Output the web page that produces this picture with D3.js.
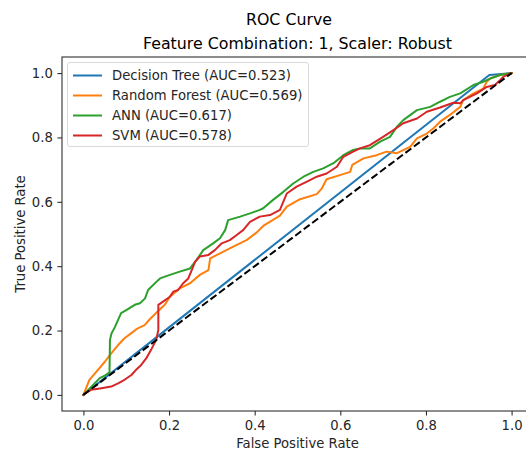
<!DOCTYPE html>
<html>
<head>
<meta charset="utf-8">
<script src="https://cdn.jsdelivr.net/npm/d3@7"></script>
<style>
  html, body { margin: 0; padding: 0; background: #fff; }
  svg { display: block; font-family: "DejaVu Sans", sans-serif; }
</style>
</head>
<body>
<div id="chart"></div>
<script>
// ---- Data ----
const titleText = "ROC Curve";
const subtitleText = "Feature Combination: 1, Scaler: Robust";
const xLabel = "False Positive Rate";
const yLabel = "True Positive Rate";
const tickValues = [0.0, 0.2, 0.4, 0.6, 0.8, 1.0];

const seriesNames = ["Decision Tree", "Random Forest", "ANN", "SVM"];
const aucValues = [0.523, 0.569, 0.617, 0.578];
const seriesColors = ["#1f77b4", "#ff7f0e", "#2ca02c", "#d62728"];

const dtFpr = [0, 0.948, 1];
const dtTpr = [0, 0.994, 1];

const rfFpr = [0, 0.014, 0.034, 0.050, 0.065, 0.081, 0.096, 0.112, 0.127, 0.143, 0.155, 0.174, 0.190, 0.202, 0.225, 0.249, 0.272, 0.292, 0.296, 0.319, 0.350, 0.381, 0.405, 0.420, 0.459, 0.475, 0.506, 0.545, 0.556, 0.568, 0.599, 0.623, 0.628, 0.654, 0.685, 0.708, 0.732, 0.763, 0.779, 0.802, 0.817, 0.833, 0.856, 0.880, 0.887, 0.911, 0.934, 0.942, 0.950, 0.973, 1];
const rfTpr = [0, 0.047, 0.078, 0.103, 0.129, 0.155, 0.176, 0.192, 0.207, 0.217, 0.235, 0.260, 0.280, 0.305, 0.331, 0.347, 0.373, 0.388, 0.424, 0.440, 0.461, 0.481, 0.505, 0.525, 0.557, 0.585, 0.608, 0.624, 0.640, 0.670, 0.683, 0.693, 0.715, 0.735, 0.745, 0.756, 0.751, 0.771, 0.797, 0.812, 0.828, 0.849, 0.870, 0.895, 0.916, 0.937, 0.952, 0.973, 0.983, 0.994, 1];

const annFpr = [0, 0.038, 0.050, 0.061, 0.062, 0.066, 0.074, 0.081, 0.088, 0.101, 0.120, 0.132, 0.144, 0.151, 0.171, 0.179, 0.202, 0.225, 0.249, 0.264, 0.280, 0.303, 0.319, 0.331, 0.338, 0.366, 0.389, 0.412, 0.420, 0.443, 0.467, 0.490, 0.514, 0.537, 0.560, 0.584, 0.607, 0.630, 0.646, 0.669, 0.693, 0.716, 0.732, 0.747, 0.779, 0.810, 0.833, 0.856, 0.880, 0.911, 0.934, 0.950, 0.973, 1];
const annTpr = [0, 0.052, 0.060, 0.070, 0.171, 0.192, 0.212, 0.233, 0.254, 0.264, 0.280, 0.285, 0.300, 0.326, 0.352, 0.362, 0.373, 0.383, 0.393, 0.419, 0.450, 0.471, 0.487, 0.512, 0.543, 0.554, 0.564, 0.575, 0.580, 0.606, 0.631, 0.657, 0.678, 0.693, 0.704, 0.720, 0.745, 0.761, 0.766, 0.766, 0.787, 0.802, 0.833, 0.854, 0.885, 0.895, 0.911, 0.926, 0.937, 0.963, 0.973, 0.983, 0.994, 1];

const svmFpr = [0, 0.003, 0.018, 0.042, 0.065, 0.081, 0.096, 0.112, 0.123, 0.135, 0.147, 0.158, 0.170, 0.175, 0.175, 0.186, 0.202, 0.210, 0.221, 0.233, 0.245, 0.253, 0.261, 0.272, 0.292, 0.307, 0.323, 0.342, 0.358, 0.373, 0.389, 0.412, 0.436, 0.459, 0.475, 0.498, 0.521, 0.545, 0.568, 0.592, 0.607, 0.630, 0.646, 0.669, 0.700, 0.724, 0.747, 0.779, 0.802, 0.833, 0.864, 0.880, 0.887, 0.919, 0.942, 0.961, 0.973, 0.981, 1];
const svmTpr = [0, 0.005, 0.016, 0.021, 0.026, 0.036, 0.047, 0.062, 0.078, 0.093, 0.114, 0.140, 0.171, 0.202, 0.280, 0.290, 0.305, 0.321, 0.326, 0.347, 0.362, 0.388, 0.414, 0.430, 0.435, 0.450, 0.471, 0.481, 0.497, 0.512, 0.538, 0.554, 0.559, 0.575, 0.626, 0.647, 0.662, 0.678, 0.688, 0.709, 0.740, 0.756, 0.766, 0.776, 0.802, 0.823, 0.844, 0.859, 0.880, 0.893, 0.908, 0.906, 0.916, 0.937, 0.957, 0.963, 0.978, 0.989, 1];

const chanceX = [0, 1];
const chanceY = [0, 1];

// ---- Layout ----
const W = 526, H = 450;
const plot = { left: 62, right: 533, top: 57, bottom: 411 };
const FS = 13.2, TFS = 15.8, LW = 2;

const x = d3.scaleLinear().domain([-0.05, 1.05]).range([plot.left, plot.right]);
const y = d3.scaleLinear().domain([-0.05, 1.05]).range([plot.bottom, plot.top]);

const svg = d3.select("#chart").append("svg")
  .attr("width", W).attr("height", H);

svg.append("rect").attr("width", W).attr("height", H).attr("fill", "#fff");

// titles
svg.append("text").attr("x", 289).attr("y", 19.5).attr("text-anchor", "middle")
  .attr("dominant-baseline", "central").attr("font-size", TFS).attr("fill", "#000")
  .text(titleText);
svg.append("text").attr("x", 297.5).attr("y", 43.5).attr("text-anchor", "middle")
  .attr("dominant-baseline", "central").attr("font-size", TFS).attr("fill", "#000")
  .text(subtitleText);

// clip
svg.append("clipPath").attr("id", "clip").append("rect")
  .attr("x", plot.left).attr("y", plot.top)
  .attr("width", plot.right - plot.left).attr("height", plot.bottom - plot.top);

const line = d3.line().x(d => x(d[0])).y(d => y(d[1]));
const g = svg.append("g").attr("clip-path", "url(#clip)");

const series = [
  d3.zip(dtFpr, dtTpr),
  d3.zip(rfFpr, rfTpr),
  d3.zip(annFpr, annTpr),
  d3.zip(svmFpr, svmTpr)
];
series.forEach((pts, i) => {
  g.append("path").datum(pts).attr("d", line)
    .attr("fill", "none").attr("stroke", seriesColors[i])
    .attr("stroke-width", LW).attr("stroke-linejoin", "round").attr("stroke-linecap", "square");
});
g.append("path").datum(d3.zip(chanceX, chanceY)).attr("d", line)
  .attr("fill", "none").attr("stroke", "#000").attr("stroke-width", LW)
  .attr("stroke-dasharray", "7.4,3.2");

// axes
const xAxis = d3.axisBottom(x).tickValues(tickValues).tickFormat(d3.format(".1f"))
  .tickSizeInner(4.6).tickSizeOuter(0).tickPadding(4.6);
const yAxis = d3.axisLeft(y).tickValues(tickValues).tickFormat(d3.format(".1f"))
  .tickSizeInner(4.6).tickSizeOuter(0).tickPadding(4.6);

const gx = svg.append("g").attr("transform", `translate(0,${plot.bottom})`).call(xAxis);
const gy = svg.append("g").attr("transform", `translate(${plot.left},0)`).call(yAxis);
[gx, gy].forEach(ax => {
  ax.selectAll("text").attr("font-size", FS).attr("fill", "#262626")
    .attr("font-family", "DejaVu Sans, sans-serif");
  ax.selectAll("line").attr("stroke", "#262626").attr("stroke-width", 1.05);
  ax.select(".domain").remove();
});

// spines
svg.append("rect").attr("x", plot.left).attr("y", plot.top)
  .attr("width", plot.right - plot.left).attr("height", plot.bottom - plot.top)
  .attr("fill", "none").attr("stroke", "#262626").attr("stroke-width", 1.05);

// axis labels
svg.append("text").attr("x", (plot.left + plot.right) / 2).attr("y", 443)
  .attr("text-anchor", "middle").attr("dominant-baseline", "central")
  .attr("font-size", FS).attr("fill", "#262626").text(xLabel);
svg.append("text").attr("transform", `translate(20,${(plot.top + plot.bottom) / 2}) rotate(-90)`)
  .attr("text-anchor", "middle").attr("dominant-baseline", "central")
  .attr("font-size", FS).attr("fill", "#262626").text(yLabel);

// legend
const leg = svg.append("g");
leg.append("rect").attr("x", 67.5).attr("y", 62.5).attr("width", 241).attr("height", 84)
  .attr("rx", 2.5).attr("fill", "#fff").attr("fill-opacity", 0.8)
  .attr("stroke", "#d9d9d9").attr("stroke-width", 1);
seriesNames.forEach((name, i) => {
  const yy = 75.5 + i * 20;
  leg.append("line").attr("x1", 73).attr("x2", 102).attr("y1", yy).attr("y2", yy)
    .attr("stroke", seriesColors[i]).attr("stroke-width", LW);
  leg.append("text").attr("x", 112).attr("y", yy).attr("dominant-baseline", "central")
    .attr("font-size", FS).attr("fill", "#262626")
    .text(`${name} (AUC=${aucValues[i].toFixed(3)})`);
});
</script>
</body>
</html>
